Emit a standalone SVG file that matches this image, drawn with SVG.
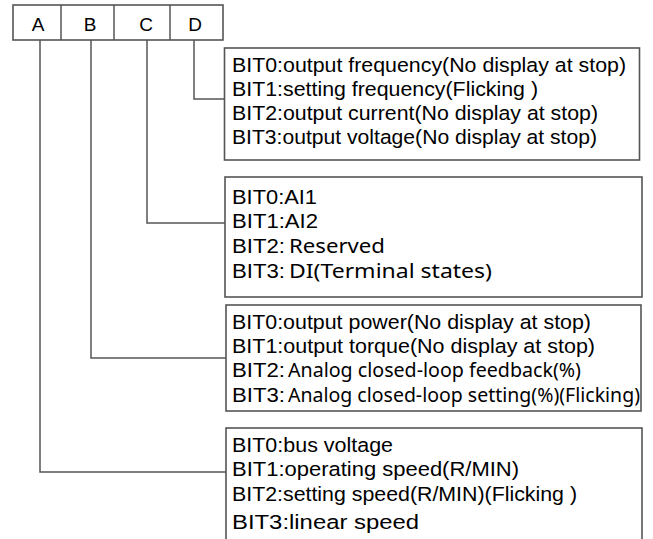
<svg xmlns="http://www.w3.org/2000/svg" width="653" height="539" viewBox="0 0 653 539">
<style>
.box{fill:#fff;stroke:#555;stroke-width:1.6}
.conn{fill:none;stroke:#555;stroke-width:1.5}
.t{font-family:"Liberation Sans",Arial,sans-serif;font-size:20.5px;fill:#000}
.t2{font-family:"Noto Sans","Open Sans",sans-serif;font-size:19.5px;fill:#000}
.h{font-family:"Liberation Sans",Arial,sans-serif;font-size:19px;fill:#000;text-anchor:middle}
</style>
<rect width="653" height="539" fill="#fff"/>
<g id="connectors">
<path class="conn" d="M194 40 V99 H224.5"/>
<path class="conn" d="M147 40 V223 H225"/>
<path class="conn" d="M91 40 V358 H226"/>
<path class="conn" d="M40 40 V472 H226"/>
</g>
<g id="header">
<rect class="box" x="13" y="5" width="210" height="35"/>
<line class="conn" x1="61" y1="5" x2="61" y2="40"/>
<line class="conn" x1="114" y1="5" x2="114" y2="40"/>
<line class="conn" x1="170" y1="5" x2="170" y2="40"/>
<text class="h" x="38" y="31">A</text>
<text class="h" x="90" y="31">B</text>
<text class="h" x="146" y="31">C</text>
<text class="h" x="195" y="31">D</text>
</g>
<g id="boxD">
<rect class="box" x="224.5" y="48" width="415" height="112"/>
<text class="t" x="232" y="72" textLength="394" lengthAdjust="spacingAndGlyphs">BIT0:output frequency(No display at stop)</text>
<text class="t" x="232" y="96" textLength="306" lengthAdjust="spacingAndGlyphs">BIT1:setting frequency(Flicking )</text>
<text class="t" x="232" y="120" textLength="366" lengthAdjust="spacingAndGlyphs">BIT2:output current(No display at stop)</text>
<text class="t" x="232" y="144" textLength="365" lengthAdjust="spacingAndGlyphs">BIT3:output voltage(No display at stop)</text>
</g>
<g id="boxC">
<rect class="box" x="225" y="177" width="417" height="120"/>
<text class="t" x="232" y="204" textLength="85" lengthAdjust="spacingAndGlyphs">BIT0:AI1</text>
<text class="t" x="232" y="228" textLength="86" lengthAdjust="spacingAndGlyphs">BIT1:AI2</text>
<text class="t" x="232" y="253" textLength="53" lengthAdjust="spacingAndGlyphs">BIT2:</text>
<text class="t2" x="289" y="253" textLength="96" lengthAdjust="spacingAndGlyphs">Reserved</text>
<text class="t" x="232" y="278" textLength="53" lengthAdjust="spacingAndGlyphs">BIT3:</text>
<text class="t2" x="289" y="278" textLength="203" lengthAdjust="spacingAndGlyphs">DI(Terminal states)</text>
</g>
<g id="boxB">
<rect class="box" x="226" y="305" width="415" height="106"/>
<text class="t" x="232" y="329" textLength="359" lengthAdjust="spacingAndGlyphs">BIT0:output power(No display at stop)</text>
<text class="t" x="232" y="353" textLength="363" lengthAdjust="spacingAndGlyphs">BIT1:output torque(No display at stop)</text>
<text class="t" x="232" y="377" textLength="53" lengthAdjust="spacingAndGlyphs">BIT2:</text>
<text class="t2" x="288" y="377" textLength="293" lengthAdjust="spacingAndGlyphs">Analog closed-loop feedback(%)</text>
<text class="t" x="232" y="402" textLength="53" lengthAdjust="spacingAndGlyphs">BIT3:</text>
<text class="t2" x="288" y="402" textLength="352" lengthAdjust="spacingAndGlyphs">Analog closed-loop setting(%)(Flicking)</text>
</g>
<g id="boxA">
<rect class="box" x="226" y="428" width="416" height="130"/>
<text class="t" x="232" y="452" textLength="161" lengthAdjust="spacingAndGlyphs">BIT0:bus voltage</text>
<text class="t" x="232" y="476" textLength="287" lengthAdjust="spacingAndGlyphs">BIT1:operating speed(R/MIN)</text>
<text class="t" x="232" y="501" textLength="345" lengthAdjust="spacingAndGlyphs">BIT2:setting speed(R/MIN)(Flicking )</text>
<text class="t" x="232" y="529" textLength="187" lengthAdjust="spacingAndGlyphs">BIT3:linear speed</text>
</g>
</svg>
